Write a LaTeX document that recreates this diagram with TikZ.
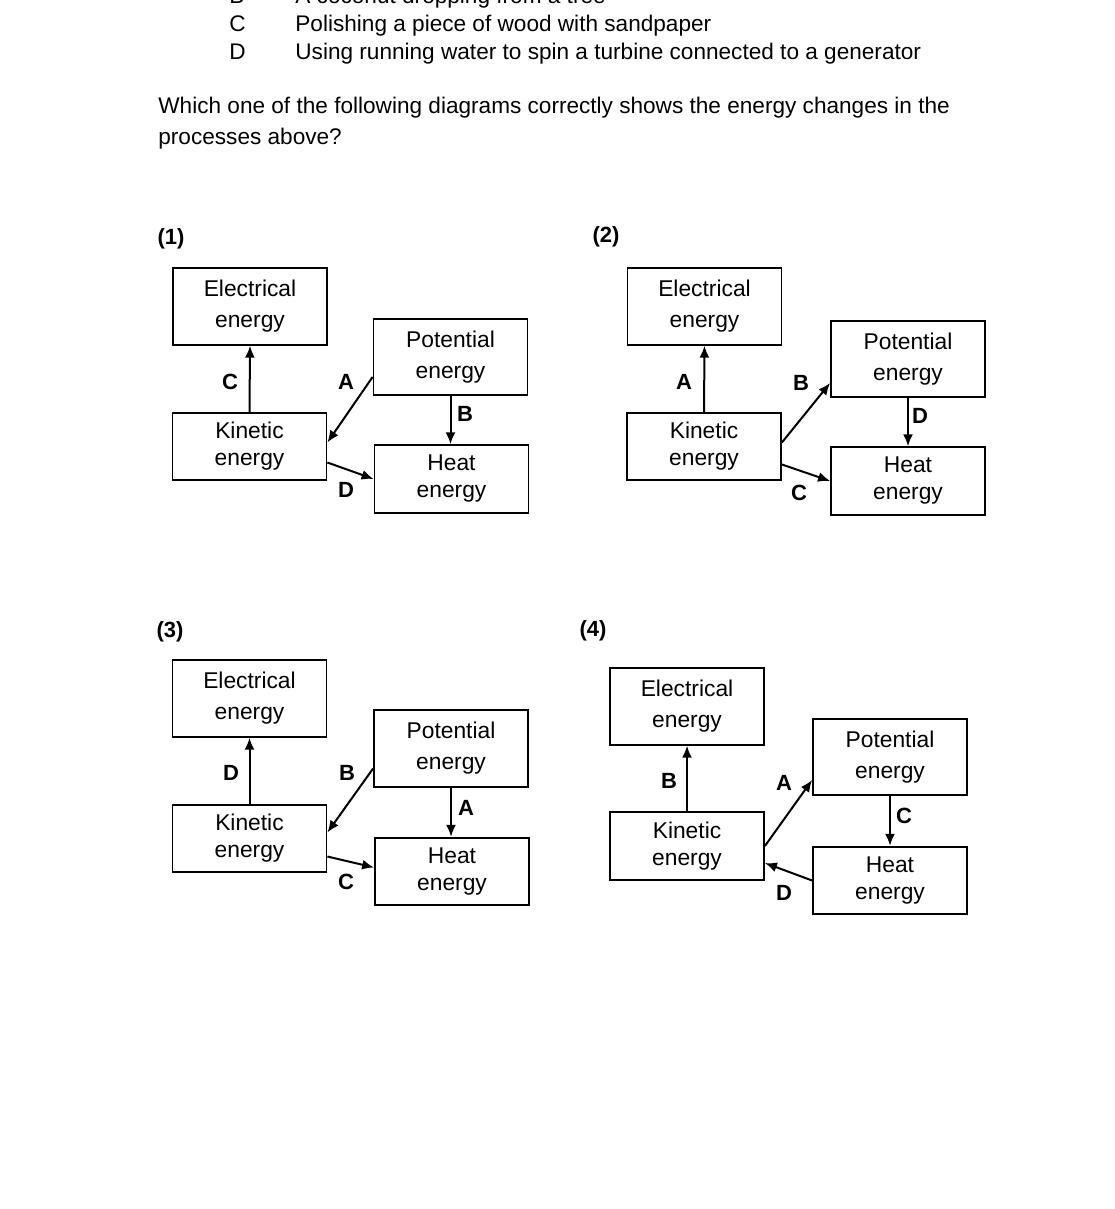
\documentclass[tikz,border=0pt]{standalone}
\usepackage{fontspec}
\setmainfont{Liberation Sans}
\usetikzlibrary{arrows.meta}

\begin{document}
\begin{tikzpicture}[x=0.5pt,y=-0.5pt,thin,
				tall box/.style = {draw, line width=0.9pt, inner sep=0pt, minimum width=77pt, minimum height=38.3pt, align=center, font=\fontsize{11.4}{15.5}\selectfont},
				short box/.style = {draw, line width=0.9pt, inner sep=0pt, minimum width=77pt, minimum height=33.8pt, align=center, font=\fontsize{11.4}{13.5}\selectfont},
				letter/.style = {inner sep=0pt, font=\fontsize{11}{13}\selectfont\bfseries},
				flow/.style = {-{Latex[length=6pt,width=5pt]}, line width=1pt},
				qtext/.style = {anchor=base west, inner sep=0pt, font=\fontsize{11.3}{13}\selectfont}]
				
				\useasboundingbox (0,0) rectangle (1114,1209);
				
				% question
				\node[qtext] (optb) at (229,4) {B};
				\node[qtext] (textb) at (295,4) {A coconut dropping from a tree};
				\node[qtext] (optc) at (229,32) {C};
				\node[qtext] (textc) at (295,32) {Polishing a piece of wood with sandpaper};
				\node[qtext] (optd) at (229,60) {D};
				\node[qtext] (textd) at (295,60) {Using running water to spin a turbine connected to a generator};
				\node[qtext] (ask1) at (158,114) {Which one of the following diagrams correctly shows the energy changes in the};
				\node[qtext] (ask2) at (158,145) {processes above?};
				
				% (1)
				\node[letter] (n1) at (171,239) {(1)};
				\node[tall box] (e1) at (250,306.5) {Electrical\\energy};
				\node[tall box] (p1) at (450.5,357) {Potential\\energy};
				\node[short box] (k1) at (249.5,446.5) {Kinetic\\energy};
				\node[short box] (h1) at (451.5,479) {Heat\\energy};
				\node[letter] (c1) at (230,382) {C};
				\node[letter] (a1) at (346,382) {A};
				\node[letter] (b1) at (465,414) {B};
				\node[letter] (d1) at (346,490) {D};
				
				\path[flow]
				(k1.north) edge (e1.south)
				([yshift=-10pt]p1.west) edge ([yshift=2pt]k1.east)
				(p1.south) edge (p1.south |- h1.north)
				([yshift=-8pt]k1.east) edge (h1.west);
				
				% (2)
				\node[letter] (n2) at (606,237) {(2)};
				\node[tall box] (e2) at (704.5,306.5) {Electrical\\energy};
				\node[tall box] (p2) at (908,359) {Potential\\energy};
				\node[short box] (k2) at (704,446.5) {Kinetic\\energy};
				\node[short box] (h2) at (908,481) {Heat\\energy};
				\node[letter] (a2) at (684,382) {A};
				\node[letter] (b2) at (801,383) {B};
				\node[letter] (d2) at (920,416) {D};
				\node[letter] (c2) at (799,493) {C};
				
				\path[flow]
				(k2.north) edge (e2.south)
				([yshift=2pt]k2.east) edge ([yshift=-12pt]p2.west)
				(p2.south) edge (p2.south |- h2.north)
				([yshift=-9pt]k2.east) edge (h2.west);
				
				% (3)
				\node[letter] (n3) at (170,632) {(3)};
				\node[tall box] (e3) at (249.5,698.5) {Electrical\\energy};
				\node[tall box] (p3) at (451,748.5) {Potential\\energy};
				\node[short box] (k3) at (249.5,838.5) {Kinetic\\energy};
				\node[short box] (h3) at (452,871.5) {Heat\\energy};
				\node[letter] (d3) at (231,773) {D};
				\node[letter] (b3) at (347,773) {B};
				\node[letter] (a3) at (466,808) {A};
				\node[letter] (c3) at (346,882) {C};
				
				\path[flow]
				(k3.north) edge (e3.south)
				([yshift=-10pt]p3.west) edge ([yshift=3pt]k3.east)
				(p3.south) edge (p3.south |- h3.north)
				([yshift=-9pt]k3.east) edge ([yshift=2pt]h3.west);
				
				% (4)
				\node[letter] (n4) at (593,631) {(4)};
				\node[tall box] (e4) at (687,706.5) {Electrical\\energy};
				\node[tall box] (p4) at (890,757) {Potential\\energy};
				\node[short box] (k4) at (687,846) {Kinetic\\energy};
				\node[short box] (h4) at (890,880.5) {Heat\\energy};
				\node[letter] (b4) at (669,781) {B};
				\node[letter] (a4) at (784,783) {A};
				\node[letter] (c4) at (904,816) {C};
				\node[letter] (d4) at (784,893) {D};
				
				\path[flow]
				(k4.north) edge (e4.south)
				(k4.east) edge ([yshift=-11.5pt]p4.west)
				(p4.south) edge (p4.south |- h4.north)
				(h4.west) edge ([yshift=-8.5pt]k4.east);
				\end{tikzpicture}
\end{document}
